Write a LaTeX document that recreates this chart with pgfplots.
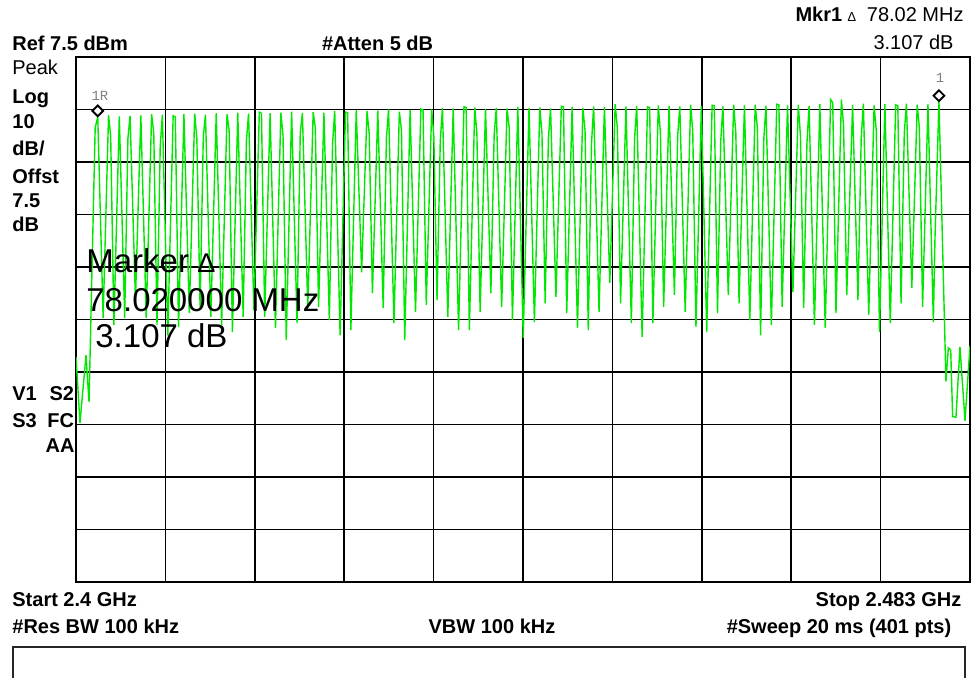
\documentclass[border=0pt]{standalone}
\usepackage{pgfplots}
\pgfplotsset{compat=1.18}
\usepackage{fontspec}
\setmainfont{Liberation Sans}
\newfontfamily\monofont{Liberation Mono}
\definecolor{trace}{RGB}{0,232,0}
\newcommand{\sm}{\fontsize{10}{12}\selectfont}
\newcommand{\bigtxt}{\fontsize{16.5}{19}\selectfont}
\begin{document}
\begin{tikzpicture}[every node/.append style={inner sep=0pt}]
\useasboundingbox (0pt,0pt) rectangle (485.5pt,-338.5pt);
\begin{axis}[
    at={(38pt,-291pt)}, anchor=south west,
    scale only axis, width=447pt, height=262.5pt,
    xmin=0, xmax=83, ymin=-92.5, ymax=7.5,
    xtick={8.3,16.6,24.9,33.2,41.5,49.8,58.1,66.4,74.7},
    ytick={-82.5,-72.5,-62.5,-52.5,-42.5,-32.5,-22.5,-12.5,-2.5},
    xticklabels={}, yticklabels={},
    major tick length=0pt,
    grid=major,
    major grid style={black, line width=0.8pt},
    axis line style={black, line width=1.2pt},
  ]
  % sweep trace, MHz above 2.4 GHz vs dBm
  \addplot[trace, line width=0.7pt, mark=none] coordinates {
    (0,-49.6) (0.37,-62.2) (0.93,-49.3) (1.21,-58.2) (1.78,-6.0)
    (2.02,-3.9) (2.52,-42.2) (3.02,-3.6) (3.22,-7.5) (3.52,-43.5)
    (4.02,-3.8) (4.52,-42.2) (4.82,-8.0) (5.02,-3.7) (5.52,-38.8)
    (6.02,-3.6) (6.52,-42.2) (7.02,-3.4) (7.22,-7.0) (7.52,-43.5)
    (7.82,-9.5) (8.02,-3.5) (8.52,-45.5) (9.02,-3.7) (9.22,-3.9) (9.52,-43.9)
    (10.02,-3.4) (10.52,-41.3) (11.02,-3.3) (11.22,-8.0) (11.52,-40.1)
    (11.82,-7.5) (12.02,-3.5) (12.52,-42.0) (13.02,-3.2) (13.52,-43.5)
    (14.02,-3.4) (14.22,-6.5) (14.52,-44.9) (15.02,-3.1) (15.52,-42.0)
    (15.82,-8.5) (16.02,-3.3) (16.52,-40.7) (17.02,-3.0) (17.22,-3.2) (17.52,-42.0)
    (18.02,-3.2) (18.52,-44.1) (19.02,-3.1) (19.22,-7.5) (19.52,-46.4)
    (20.02,-2.9) (20.52,-43.2) (20.82,-7.0) (21.02,-3.2) (21.52,-40.3)
    (22.02,-3.0) (22.22,-6.0) (22.52,-40.1) (23.02,-3.1) (23.52,-42.6)
    (23.82,-9.0) (24.02,-2.8) (24.52,-45.5) (25.02,-3.0) (25.22,-3.1) (25.52,-44.5)
    (26.02,-2.6) (26.52,-33.5) (27.02,-2.8) (27.22,-7.0) (27.52,-37.5)
    (28.02,-2.7) (28.52,-40.3) (28.82,-8.0) (29.02,-2.5) (29.52,-43.2)
    (30.02,-2.9) (30.22,-6.5) (30.52,-46.4) (31.02,-2.6) (31.52,-41.1)
    (32.02,-2.4) (32.22,-2.6) (32.52,-39.7) (33.02,-2.5) (33.22,-7.5) (33.52,-38.8)
    (33.82,-8.5) (34.02,-2.2) (34.52,-42.0) (35.02,-2.3) (35.52,-44.5)
    (36.02,-2.0) (36.22,-2.1) (36.52,-44.5) (37.02,-2.1) (37.22,-7.0) (37.52,-41.1)
    (38.02,-2.4) (38.52,-37.5) (38.82,-7.5) (39.02,-2.2) (39.52,-40.1)
    (40.02,-2.3) (40.22,-6.0) (40.52,-42.6) (41.02,-2.0) (41.52,-46.0)
    (42.06,-2.2) (42.56,-43.0) (43.06,-2.1) (43.26,-7.0) (43.56,-39.4)
    (43.86,-8.0) (44.06,-2.3) (44.56,-38.2) (45.06,-1.9) (45.26,-2.0) (45.56,-41.3)
    (46.06,-2.0) (46.56,-44.1) (47.06,-2.2) (47.26,-6.5) (47.56,-44.5)
    (47.86,-9.0) (48.06,-1.9) (48.56,-41.1) (49.06,-2.0) (49.56,-35.5)
    (50.06,-1.5) (50.26,-6.0) (50.56,-39.4) (51.06,-1.9) (51.56,-43.2)
    (51.86,-8.0) (52.06,-1.8) (52.56,-45.8) (53.06,-2.0) (53.26,-2.1) (53.56,-43.2)
    (54.06,-1.7) (54.26,-7.0) (54.56,-40.1) (55.06,-1.8) (55.56,-37.8)
    (55.86,-7.5) (56.06,-1.9) (56.56,-41.1) (57.06,-1.6) (57.26,-6.5) (57.56,-43.9)
    (58.06,-1.8) (58.56,-44.9) (59.06,-1.7) (59.26,-1.8) (59.56,-41.3)
    (59.86,-8.5) (60.06,-1.9) (60.56,-37.8) (61.06,-1.6) (61.26,-7.0) (61.56,-39.4)
    (62.06,-1.7) (62.56,-42.6) (63.06,-1.6) (63.26,-6.0) (63.56,-45.5)
    (63.86,-8.0) (64.06,-1.8) (64.56,-43.5) (65.06,-1.5) (65.26,-1.6) (65.56,-40.1)
    (66.06,-1.7) (66.56,-37.3) (67.06,-1.6) (67.26,-7.5) (67.56,-40.3)
    (67.86,-9.0) (68.06,-1.8) (68.56,-43.5) (69.06,-1.5) (69.56,-44.1)
    (70.06,-0.6) (70.26,-1.2) (70.56,-41.3) (71.06,-0.6) (71.26,-5.5) (71.56,-37.8)
    (72.10,-1.6) (72.60,-38.8) (72.90,-8.0) (73.10,-1.4) (73.60,-41.6)
    (74.10,-1.7) (74.30,-6.5) (74.60,-44.9) (75.10,-1.5) (75.60,-43.2)
    (76.10,-1.6) (76.30,-1.8) (76.60,-39.4) (76.90,-7.0) (77.10,-1.4) (77.60,-36.5)
    (78.10,-1.6) (78.30,-6.0) (78.60,-40.1) (79.10,-1.5) (79.60,-43.0)
    (79.75,-27.0) (80.12,-1.0)
    (80.77,-54.3) (80.99,-47.9) (81.21,-48.3) (81.39,-61.0) (81.70,-61.1)
    (82.07,-47.7) (82.54,-61.8) (83.0,-47.5)
  };
  % markers 1R and 1
  \addplot[only marks, mark=square*, mark size=1.9pt, black, line width=0.9pt,
    mark options={fill=white},
    every mark/.append style={yshift=3pt, rotate=45}]
    coordinates {(2.02,-3.9) (80.12,-1.0)};
\end{axis}
% marker tags
\node[font=\monofont\fontsize{7}{8}\selectfont, text=gray] at (50pt,-48pt) {1R};
\node[font=\monofont\fontsize{7}{8}\selectfont, text=gray] at (470pt,-39pt) {1};
% header
\node[anchor=base east, font=\sm] at (482pt,-10.75pt) {\textbf{Mkr1} {\fontsize{6.5}{7}\selectfont ∆}\ \ 78.02 MHz};
\node[anchor=base east, font=\sm] at (477pt,-24.65pt) {3.107 dB};
\node[anchor=base west, font=\sm\bfseries] at (6pt,-25pt) {Ref 7.5 dBm};
\node[anchor=base west, font=\sm\bfseries] at (160.8pt,-25pt) {\#Atten 5 dB};
% left column
\node[anchor=base west, font=\sm] at (6pt,-37pt) {Peak};
\node[anchor=base west, font=\sm\bfseries] at (6pt,-51.65pt) {Log};
\node[anchor=base west, font=\sm\bfseries] at (6pt,-64.15pt) {10};
\node[anchor=base west, font=\sm\bfseries] at (6pt,-77.85pt) {dB/};
\node[anchor=base west, font=\sm\bfseries] at (6pt,-91.5pt) {Offst};
\node[anchor=base west, font=\sm\bfseries] at (6pt,-103.65pt) {7.5};
\node[anchor=base west, font=\sm\bfseries] at (6pt,-115.85pt) {dB};
\node[anchor=base west, font=\sm\bfseries] at (6pt,-200.35pt) {V1};
\node[anchor=base east, font=\sm\bfseries] at (37.25pt,-200.35pt) {S2};
\node[anchor=base west, font=\sm\bfseries] at (6pt,-213.85pt) {S3};
\node[anchor=base east, font=\sm\bfseries] at (37.25pt,-213.85pt) {FC};
\node[anchor=base east, font=\sm\bfseries] at (37.5pt,-226.35pt) {AA};
% marker readout
\node[anchor=base west, font=\bigtxt] at (43pt,-136.15pt) {Marker {\fontsize{13.5}{14}\selectfont ∆}};
\node[anchor=base west, font=\bigtxt] at (43pt,-155.5pt) {78.020000 MHz};
\node[anchor=base west, font=\bigtxt] at (47.5pt,-173.65pt) {3.107 dB};
% footer
\node[anchor=base west, font=\sm\bfseries] at (6pt,-303.35pt) {Start 2.4 GHz};
\node[anchor=base east, font=\sm\bfseries] at (480.85pt,-303.35pt) {Stop 2.483 GHz};
\node[anchor=base west, font=\sm\bfseries] at (6pt,-316.65pt) {\#Res BW 100 kHz};
\node[anchor=base, font=\sm\bfseries] at (246pt,-316.65pt) {VBW 100 kHz};
\node[anchor=base east, font=\sm\bfseries] at (475.85pt,-316.65pt) {\#Sweep 20 ms (401 pts)};
\draw[line width=1pt, black!85] (6.5pt,-345pt) -- (6.5pt,-323.5pt) -- (482.5pt,-323.5pt) -- (482.5pt,-345pt);
\end{tikzpicture}
\end{document}
